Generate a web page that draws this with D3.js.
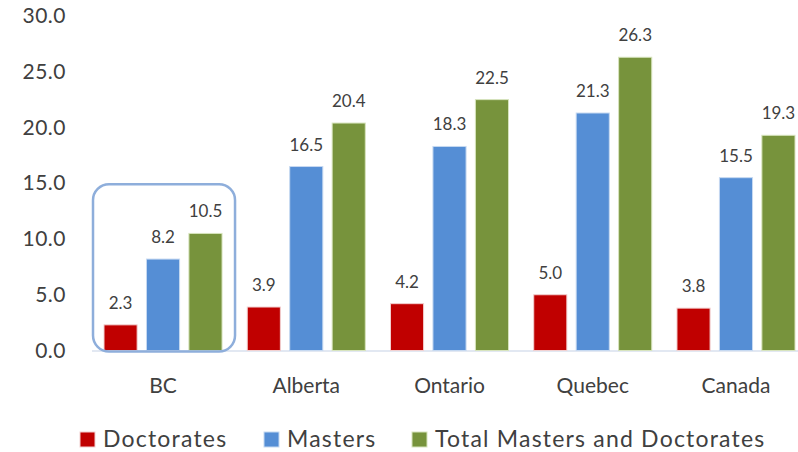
<!DOCTYPE html>
<html>
<head>
<meta charset="utf-8">
<script src="https://cdn.jsdelivr.net/npm/d3@7"></script>
<style>
  html, body { margin: 0; padding: 0; background: #fff; }
  svg { display: block; font-family: Lato, "Open Sans", sans-serif; }
</style>
</head>
<body>
<svg id="chart" width="798" height="452"></svg>
<script>
// Regions compared
const categories = ["BC", "Alberta", "Ontario", "Quebec", "Canada"];
const seriesNames = ["Doctorates", "Masters", "Total Masters and Doctorates"];
const doctorates = [2.3, 3.9, 4.2, 5.0, 3.8];
const masters = [8.2, 16.5, 18.3, 21.3, 15.5];
const totals = [10.5, 20.4, 22.5, 26.3, 19.3];
const yTicks = [0, 5, 10, 15, 20, 25, 30];
const highlighted = "BC";

const colors = ["#c00000", "#558ed5", "#77933c"];
const edgeColors = ["#f2d0d0", "#c6d9f1", "#d7e4bd"];
const seriesValues = [doctorates, masters, totals];

const svg = d3.select("#chart");
const textColor = "#404040";

const y = d3.scaleLinear().domain([0, 30]).range([350.5, 16]);
const x0 = d3.scaleBand().domain(categories).range([91.4, 807.6])
  .paddingInner(0.176).paddingOuter(0.088);
const x1 = d3.scaleBand().domain(d3.range(seriesNames.length))
  .range([0, x0.bandwidth()]).paddingInner(0.22);

// Y axis labels (no axis line, no gridlines)
const yAxis = d3.axisLeft(y).tickValues(yTicks).tickFormat(d3.format(".1f")).tickSize(0).tickPadding(0);
const yg = svg.append("g").attr("transform", "translate(66,0)").call(yAxis);
yg.select(".domain").remove();
yg.selectAll("text").attr("font-size", 21).attr("fill", textColor)
  .attr("letter-spacing", 0.5)
  .attr("font-family", "Lato, 'Open Sans', sans-serif");

// Baseline
svg.append("line")
  .attr("x1", 92).attr("x2", 798)
  .attr("y1", y(0) + 0.5).attr("y2", y(0) + 0.5)
  .attr("stroke", "#d9e1ee").attr("stroke-width", 1.5);

// Bars
const groups = svg.append("g").selectAll("g")
  .data(categories).join("g")
  .attr("transform", d => `translate(${x0(d)},0)`);

groups.each(function(cat, ci) {
  const g = d3.select(this);
  seriesValues.forEach((vals, si) => {
    const v = vals[ci];
    g.append("rect")
      .attr("x", x1(si)).attr("width", x1.bandwidth())
      .attr("y", y(v)).attr("height", y(0) - y(v))
      .attr("fill", colors[si])
      .attr("stroke", edgeColors[si]).attr("stroke-width", 1);
    g.append("text")
      .attr("x", x1(si) + x1.bandwidth() / 2)
      .attr("y", y(v) - 16)
      .attr("text-anchor", "middle")
      .attr("font-size", 17).attr("fill", textColor)
      .text(d3.format(".1f")(v));
  });
});

// Category labels
const xAxis = d3.axisBottom(x0).tickSize(0).tickPadding(0);
const xg = svg.append("g").attr("transform", `translate(0,${y(0)})`).call(xAxis);
xg.select(".domain").remove();
xg.selectAll("text").attr("font-size", 21).attr("fill", textColor)
  .attr("font-family", "Lato, 'Open Sans', sans-serif")
  .attr("dy", null).attr("y", 42);

// Rounded box highlighting one region
const hx = x0(highlighted);
svg.append("rect")
  .attr("x", hx - 11).attr("y", y(15) + 1)
  .attr("width", x0.bandwidth() + 24).attr("height", y(0) - y(15))
  .attr("rx", 16).attr("ry", 16)
  .attr("fill", "none").attr("stroke", "#8eaedb").attr("stroke-width", 2.5);

// Legend
const legendX = [80, 264, 412];
const legend = svg.append("g").selectAll("g").data(seriesNames).join("g")
  .attr("transform", (d, i) => `translate(${legendX[i]},432)`);
legend.append("rect").attr("width", 15).attr("height", 15)
  .attr("fill", (d, i) => colors[i])
  .attr("stroke", (d, i) => edgeColors[i]).attr("stroke-width", 1);
legend.append("text").attr("x", 23).attr("y", 15)
  .attr("font-size", 23).attr("letter-spacing", 1.2).attr("fill", textColor)
  .text(d => d);
</script>
</body>
</html>
